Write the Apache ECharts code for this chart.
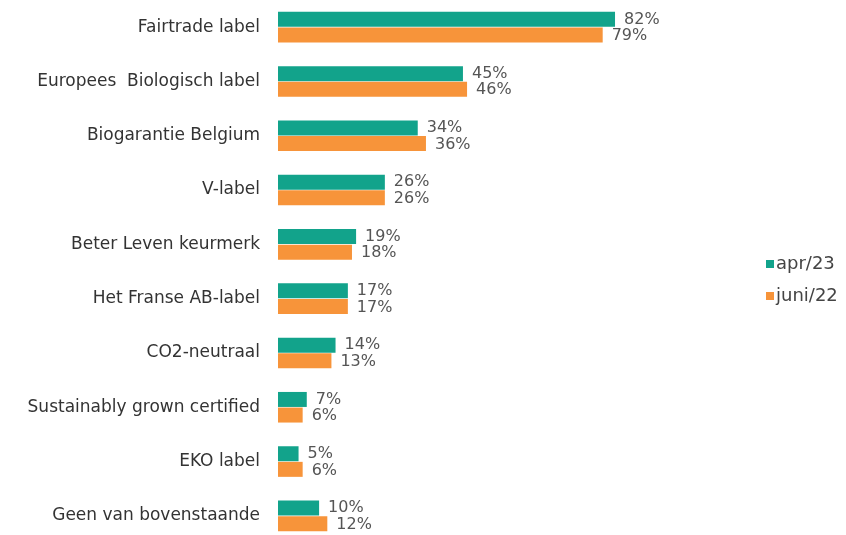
<!DOCTYPE html>
<html>
<head>
<meta charset="utf-8">
<script src="https://cdn.jsdelivr.net/npm/echarts@6/dist/echarts.min.js"></script>
<style>
  html, body { margin: 0; padding: 0; background: #fff; }
  #chart { width: 846px; height: 535px; }
</style>
</head>
<body>
<div id="chart"></div>
<script>
const categories = [
  'Fairtrade label',
  'Europees  Biologisch label',
  'Biogarantie Belgium',
  'V-label',
  'Beter Leven keurmerk',
  'Het Franse AB-label',
  'CO2-neutraal',
  'Sustainably grown certified',
  'EKO label',
  'Geen van bovenstaande'
]
const apr23 = [82, 45, 34, 26, 19, 17, 14, 7, 5, 10]
const juni22 = [79, 46, 36, 26, 18, 17, 13, 6, 6, 12]

const chart = echarts.init(document.getElementById('chart'))

const font = 'DejaVu Sans, Verdana, sans-serif'
const labelStyle = {
  show: true,
  position: 'right',
  distance: 9,
  color: '#555',
  fontSize: 16,
  fontFamily: font,
  formatter: '{c}%'
}

chart.setOption({
  animation: false,
  grid: {
    left: 278,
    top: 0,
    width: 411,
    height: 543,
    outerBoundsMode: 'none'
  },
  legend: {
    orient: 'vertical',
    left: 761,
    top: 250,
    itemWidth: 8,
    itemHeight: 8,
    itemGap: 14,
    icon: 'rect',
    textStyle: {
      color: '#444',
      fontSize: 18,
      fontFamily: font,
      padding: [0, 0, 0, -3]
    },
    data: ['apr/23', 'juni/22']
  },
  xAxis: {
    type: 'value',
    min: 0,
    max: 100,
    show: false
  },
  yAxis: {
    type: 'category',
    data: categories,
    inverse: true,
    axisLine: { show: false },
    axisTick: { show: false },
    axisLabel: {
      margin: 18,
      color: '#333',
      fontSize: 17,
      fontFamily: font
    }
  },
  series: [
    {
      name: 'apr/23',
      type: 'bar',
      data: apr23,
      barWidth: 15,
      barGap: '4%',
      itemStyle: { color: '#12a38b' },
      label: Object.assign({}, labelStyle, { offset: [0, 0] })
    },
    {
      name: 'juni/22',
      type: 'bar',
      data: juni22,
      barWidth: 15,
      itemStyle: { color: '#f7943a' },
      label: Object.assign({}, labelStyle, { offset: [0, 1] })
    }
  ]
})
</script>
</body>
</html>
